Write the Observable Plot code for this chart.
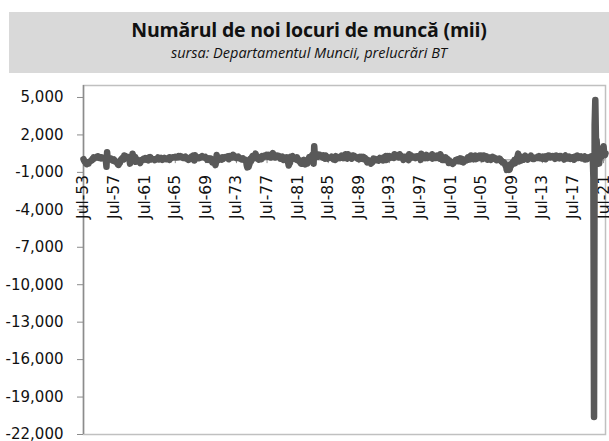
<!DOCTYPE html>
<html>
<head>
<meta charset="utf-8">
<script src="https://cdn.jsdelivr.net/npm/d3@7"></script>
<script src="https://cdn.jsdelivr.net/npm/@observablehq/plot@0.6"></script>
<style>
  html, body { margin: 0; padding: 0; background: #fff; }
  #wrap { position: relative; width: 609px; height: 441px; overflow: hidden; }
  #head { position: absolute; left: 9px; top: 12px; width: 600px; height: 61px; background: #d9d9d9; text-align: center; }
  #title { font-family: "Open Sans", sans-serif; font-weight: 700; font-size: 19.5px; color: #111; margin-top: 6px; line-height: 24px; letter-spacing: -0.2px; }
  #sub { font-family: "Open Sans", sans-serif; font-style: italic; font-size: 14.5px; color: #111; line-height: 22px; }
  #chart { position: absolute; left: 0; top: 73px; }
</style>
</head>
<body>
<div id="wrap">
  <div id="head">
    <div id="title">Numărul de noi locuri de muncă (mii)</div>
    <div id="sub">sursa: Departamentul Muncii, prelucrări BT</div>
  </div>
  <div id="chart"></div>
</div>
<script>
// monthly change in nonfarm payrolls (thousands), starting Jul 1953
const startYear = 1953, startMonth = 6; // July (0-based)
const v1950s = [
  60, -60, -150, -150, -300, -350,
  -320, -250, -280, -150, -150, -100, -60, -40, 80, 50, 200, 120,
  180, 200, 230, 250, 280, 200, 260, 150, 150, 200, 120, 200,
  150, 130, 90, 100, 50, 10, -550, 620, 50, 40, 30, 70,
  60, 100, 30, -30, -60, -40, 30, -100, -150, -170, -220, -180,
  -380, -400, -300, -250, -100, 40, 80, 150, 200, 30, 350, 150,
  200, 230, 250, 250, 130, 100, 100, -300, -20, -50, 120, 500
];
const v1960s = [
  200, 50, 50, 250, -150, -50, -100, 10, -30, -60, -150, -250,
  -100, -50, -30, 50, 80, 100, 40, 150, 20, 120, 140, 80,
  -30, 200, 100, 220, 50, 30, 60, 60, 50, 60, -20, 20,
  50, 80, 80, 200, 30, 60, 100, 60, 150, 120, 0, 100,
  70, 150, 120, 60, 60, 100, 120, 120, 180, 0, 200, 170,
  160, 180, 210, 200, 210, 200, 250, 230, 200, 220, 250, 300,
  220, 230, 300, 240, 230, 250, 170, 200, 150, 200, 250, 150,
  170, 50, 80, 0, 110, 130, 200, 250, 80, 130, 340, 200,
  -50, 380, 130, 250, 150, 200, 200, 130, 150, 220, 250, 250,
  300, 250, 200, 200, 230, 250, 180, 150, 10, 120, 0, 130
];
const v1970s = [
  50, 50, 100, -30, -200, -150, 10, -150, -70, -420, -150, 400,
  80, -30, 50, 180, 160, 100, 80, 20, 200, 80, 160, 200,
  230, 200, 230, 200, 270, 220, 50, 300, 200, 300, 250, 230,
  200, 400, 300, 200, 200, 250, 150, 200, 200, 250, 200, 100,
  100, 120, 40, 100, 120, 50, 0, -20, 0, -50, -400, -600,
  -500, -550, -400, -250, 80, -100, 200, 300, 250, 250, 150, 300,
  500, 250, 250, 250, 50, 20, 200, 150, 200, 50, 300, 200,
  200, 250, 350, 350, 350, 400, 250, 250, 400, 300, 350, 300,
  200, 350, 450, 550, 350, 400, 200, 200, 300, 350, 350, 250,
  250, 300, 250, 100, 200, 200, 250, 100, 0, 200, 150, 150
];
const v1980s = [
  140, 200, 100, -200, -450, -300, -250, 250, 100, 250, 300, 200,
  100, 100, 100, 100, 30, 200, 100, -50, -100, -50, -200, -300,
  -300, -50, -150, -300, 0, -250, -350, -150, -200, -300, -100, 0,
  200, -50, 200, 300, 300, 400, 450, -300, 1100, 300, 350, 350,
  450, 450, 250, 350, 350, 400, 300, 250, 300, 300, 350, 150,
  250, 100, 350, 200, 250, 100, 200, 150, 200, 200, 200, 250,
  150, 100, 50, 200, 150, 0, 300, 100, 250, 200, 150, 200,
  150, 250, 250, 350, 200, 150, 350, 150, 250, 450, 250, 300,
  100, 450, 250, 250, 200, 350, 200, 100, 350, 250, 350, 300,
  250, 250, 200, 150, 100, 100, 50, 50, 250, 100, 250, 100
];
const v1990s = [
  150, 250, 200, 30, 150, 30, -30, -200, 0, -150, -150, -50,
  -150, -300, -150, -200, -50, 100, -50, 0, 50, -20, -30, 20,
  50, -50, 50, 150, 100, 50, 50, 100, -50, 200, 150, 250,
  300, 250, 0, 300, 250, 150, 300, 150, 250, 250, 250, 300,
  300, 150, 450, 350, 300, 300, 350, 300, 350, 200, 450, 250,
  350, 250, 200, 150, 0, 250, 250, 100, 250, 150, 150, 150,
  -20, 450, 250, 150, 350, 300, 200, 250, 200, 250, 250, 150,
  250, 300, 300, 300, 250, 250, 300, 0, 500, 300, 300, 300,
  250, 200, 150, 300, 400, 200, 150, 300, 250, 200, 300, 350,
  150, 450, 100, 350, 200, 250, 300, 150, 200, 350, 300, 300
];
const v2000s = [
  250, 100, 450, 300, 200, 0, 150, 0, 100, 0, 200, 150,
  -20, 80, -30, -250, -50, -150, -130, -160, -250, -320, -290, -170,
  -130, -140, -20, -80, -10, 40, -100, -10, -90, 120, 20, -150,
  80, -150, -200, -40, -10, -10, 20, -40, 110, 200, 20, 110,
  150, 40, 350, 250, 300, 100, 50, 120, 170, 350, 60, 150,
  130, 250, 150, 350, 150, 250, 350, 200, 70, 80, 350, 150,
  300, 300, 300, 150, 20, 70, 200, 180, 160, 0, 200, 170,
  240, 90, 190, 80, 140, 70, -30, -20, 80, 80, 110, 100,
  20, -90, -80, -200, -180, -170, -210, -270, -460, -480, -800, -700,
  -780, -700, -800, -700, -350, -470, -350, -210, -260, -200, -10, -280
];
const v2010s = [
  10, -80, 180, 260, 500, -130, -80, -60, -60, 260, 130, 70,
  20, 210, 250, 330, 100, 230, 80, 20, 200, 140, 150, 200,
  340, 260, 240, 80, 90, 70, 160, 170, 190, 210, 160, 260,
  190, 300, 140, 190, 220, 180, 100, 260, 180, 240, 270, 50,
  190, 170, 270, 330, 240, 340, 280, 200, 270, 270, 310, 290,
  190, 310, 80, 280, 340, 190, 290, 150, 130, 300, 250, 300,
  150, 240, 200, 140, 30, 300, 350, 160, 250, 120, 180, 190,
  260, 220, 70, 190, 120, 210, 190, 180, 20, 260, 230, 180,
  170, 350, 150, 180, 260, 200, 180, 270, 110, 250, 140, 230,
  270, 30, 150, 220, 60, 180, 190, 210, 200, 190, 260, 180
];
const v2020s = [
  310, 290, -1400, -20600, 2800, 4800, 1700, 1600, 700, 700, 260, -300,
  230, 540, 780, 270, 610, 960, 1090, 480, 380, 530
];
const yTicks = [5000, 2000, -1000, -4000, -7000, -10000, -13000, -16000, -19000, -22000];
const xTickYears = [1953, 1957, 1961, 1965, 1969, 1973, 1977, 1981, 1985, 1989, 1993, 1997, 2001, 2005, 2009, 2013, 2017, 2021];

const values = [...v1950s, ...v1960s, ...v1970s, ...v1980s, ...v1990s, ...v2000s, ...v2010s, ...v2020s];
const data = values.map((v, i) => ({date: new Date(Date.UTC(startYear, startMonth + i, 1)), value: v}));
const xTicks = xTickYears.map(y => new Date(Date.UTC(y, 6, 1)));
const fmtX = d => "Jul-" + String(d.getUTCFullYear() % 100).padStart(2, "0");
const fmtY = d => d3.format(",")(d).replace("\u2212", "-");

const chart = Plot.plot({
  width: 609,
  height: 368,
  marginTop: 12,
  marginBottom: 7,
  marginLeft: 83,
  marginRight: 4,
  x: {type: "utc", domain: [data[0].date, data[data.length - 1].date], axis: null},
  y: {domain: [-22000, 5960], axis: null},
  marks: [
    Plot.frame({stroke: "#c0c0c0", strokeWidth: 1.5}),
    Plot.ruleX([data[0].date], {stroke: "#8c8c8c", strokeWidth: 1.5}),
    Plot.axisY({
      ticks: yTicks, tickFormat: fmtY, tickSize: 6, tickPadding: 14, label: null,
      stroke: "#8c8c8c", fill: "#111",
      fontSize: 15, fontFamily: "DejaVu Sans"
    }),
    Plot.ruleY([0], {stroke: "#8c8c8c"}),
    Plot.ruleX(xTicks, {x: d => d, y1: 0, y2: -300, stroke: "#8c8c8c"}),
    Plot.text(xTicks, {
      x: d => d, y: d => 0, text: fmtX, rotate: -90, textAnchor: "end",
      dy: 15, fontSize: 15.5, fontFamily: "DejaVu Sans", fill: "#111"
    }),
    Plot.line(data, {x: "date", y: "value", stroke: "#595959", strokeWidth: 6.5,
      strokeLinejoin: "round", strokeLinecap: "round"})
  ]
});
document.getElementById("chart").appendChild(chart);
</script>
</body>
</html>
